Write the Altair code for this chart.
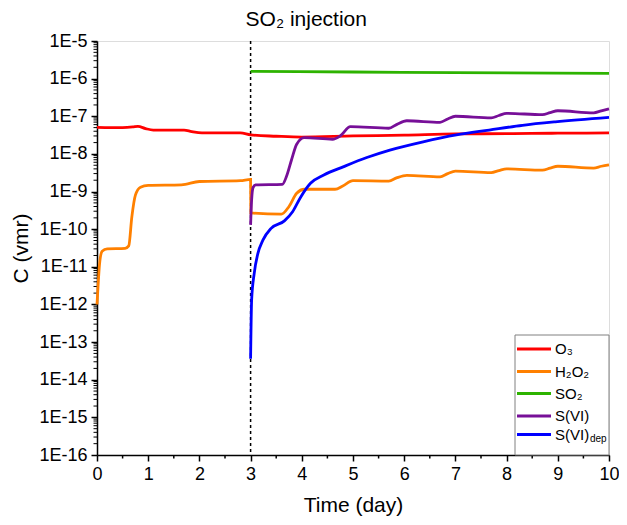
import altair as alt
import pandas as pd

FONT = "Liberation Sans"

# ---------------- data ----------------
series_names = ["O3", "H2O2", "SO2", "S(VI)", "S(VI)dep"]
series_colors = ["#ff0000", "#ff8000", "#2db300", "#770f98", "#0000ff"]

o3_t = [0, 0.5, 0.7, 0.8, 0.95, 1.1, 1.7, 1.85, 2.05, 2.8, 3.0, 3.5, 4.0, 5.0, 6.0, 7.0, 8.0, 9.0, 10]
o3_c = [5.1e-8, 5.0e-8, 5.2e-8, 5.4e-8, 4.7e-8, 4.3e-8, 4.3e-8, 3.9e-8, 3.6e-8, 3.6e-8,
        3.2e-8, 2.95e-8, 2.8e-8, 3.0e-8, 3.15e-8, 3.4e-8, 3.45e-8, 3.55e-8, 3.6e-8]

h2o2_t = [0, 0.02, 0.05, 0.1, 0.2, 0.55, 0.62, 0.68, 0.75, 0.85, 1.0, 1.65, 2.0, 2.8, 3.0, 3.005,
          3.6, 3.75, 3.9, 4.05, 4.65, 4.8, 5.0, 5.7, 5.85, 6.05, 6.7, 6.85, 7.0, 7.7, 7.85, 8.0,
          8.7, 8.85, 9.0, 9.7, 9.85, 10]
h2o2_c = [1.0e-12, 3.0e-12, 1.2e-11, 2.6e-11, 3.0e-11, 3.1e-11, 3.6e-11, 2.1e-10, 8.0e-10, 1.3e-9,
          1.45e-9, 1.5e-9, 1.85e-9, 1.95e-9, 2.1e-9, 2.7e-10,
          2.5e-10, 4.0e-10, 9.0e-10, 1.15e-9, 1.15e-9, 1.4e-9, 1.95e-9, 1.9e-9, 2.3e-9, 2.7e-9,
          2.45e-9, 3.0e-9, 3.5e-9, 3.2e-9, 3.6e-9, 4.0e-9, 3.7e-9, 4.2e-9, 4.7e-9, 4.2e-9,
          4.7e-9, 5.1e-9]

so2_t = [3.0, 5.0, 7.0, 10]
so2_c = [1.56e-6, 1.5e-6, 1.45e-6, 1.38e-6]

svi_t = [3.0, 3.02, 3.05, 3.1, 3.62, 3.7, 3.8, 3.9, 4.05, 4.6, 4.75, 4.95, 5.7, 5.85, 6.05, 6.7,
         6.85, 7.0, 7.7, 7.85, 8.0, 8.7, 8.85, 9.0, 9.7, 9.85, 10]
svi_c = [1.3e-10, 6.0e-10, 1.3e-9, 1.5e-9, 1.55e-9, 2.5e-9, 7.0e-9, 1.8e-8, 2.7e-8, 2.45e-8,
         3.0e-8, 5.3e-8, 4.8e-8, 6.0e-8, 7.6e-8, 6.9e-8, 8.5e-8, 1.0e-7, 9.1e-8, 1.05e-7,
         1.2e-7, 1.1e-7, 1.25e-7, 1.4e-7, 1.23e-7, 1.4e-7, 1.58e-7]

dep_t = [3.0, 3.02, 3.07, 3.14, 3.24, 3.40, 3.66, 3.82, 3.98, 4.17, 4.43, 4.82, 5.27, 5.72,
         6.37, 7.02, 7.66, 8.31, 8.95, 10]
dep_c = [3.6e-14, 1.3e-12, 6.6e-12, 2.2e-11, 5.1e-11, 1.05e-10, 1.66e-10, 2.9e-10, 7.2e-10,
         1.66e-9, 2.75e-9, 4.6e-9, 8.0e-9, 1.26e-8, 2.1e-8, 3.2e-8, 4.3e-8, 5.75e-8, 7.1e-8, 9.3e-8]

injection_day = [3.0]

y_major = [1e-16, 1e-15, 1e-14, 1e-13, 1e-12, 1e-11, 1e-10, 1e-9, 1e-8, 1e-7, 1e-6, 1e-5]
x_major = [0, 1, 2, 3, 4, 5, 6, 7, 8, 9, 10]
x_minor = [0.5, 1.5, 2.5, 3.5, 4.5, 5.5, 6.5, 7.5, 8.5, 9.5]

legend_labels = ["O₃", "H₂O₂", "SO₂", "S(VI)", "S(VI)"]

# ---------------- scales / axes ----------------
W, H = 512, 414
yscale = alt.Scale(type="log", domain=[1e-16, 1e-5], nice=False)
xscale = alt.Scale(domain=[0, 10], nice=False, zero=False)

common_axis = dict(grid=False, domainColor="black", tickColor="black", labelColor="black",
                   titleColor="black", domainWidth=1.5, tickWidth=1.5, tickSize=6,
                   labelFont=FONT, titleFont=FONT, labelFontSize=18, titleFontSize=21,
                   titleFontWeight="normal", labelOverlap=False, labelFlush=False)

yaxis = alt.Axis(values=y_major, labelExpr="'1E' + round(log(datum.value)/LN10)",
                 title="C (vmr)", labelPadding=4, titlePadding=7, **common_axis)
xaxis = alt.Axis(values=x_major, format="d", title="Time (day)", labelPadding=4,
                 titlePadding=11, **common_axis)


def X(field):
    return alt.X(field, scale=xscale, axis=xaxis)


def Y(field):
    return alt.Y(field, scale=yscale, axis=yaxis)


layers = []

# minor ticks (log y)
y_minor = [k * 10.0 ** d for d in range(-16, -5) for k in range(2, 10)]
layers.append(
    alt.Chart(pd.DataFrame({"v": y_minor})).mark_rule(color="black", strokeWidth=1)
    .encode(y=Y("v:Q"), x=alt.value(-3.5), x2=alt.value(0))
)
layers.append(
    alt.Chart(pd.DataFrame({"h": x_minor})).mark_rule(color="black", strokeWidth=1.5)
    .encode(x=X("h:Q"), y=alt.value(H), y2=alt.value(H + 3.5))
)

# injection line
layers.append(
    alt.Chart(pd.DataFrame({"d": injection_day})).mark_rule(
        color="black", strokeDash=[3, 3], strokeWidth=1.5)
    .encode(x=X("d:Q"))
)

# series
all_series = [(o3_t, o3_c), (h2o2_t, h2o2_c), (so2_t, so2_c), (svi_t, svi_c), (dep_t, dep_c)]
for name, col, (ts, cs) in zip(series_names, series_colors, all_series):
    d = pd.DataFrame({"t": ts, "c": cs, "i": list(range(len(ts)))})
    layers.append(
        alt.Chart(d).mark_line(color=col, strokeWidth=2.8, interpolate="monotone")
        .encode(x=X("t:Q"), y=Y("c:Q"), order="i:Q")
    )

# annotation
layers.append(
    alt.Chart(pd.DataFrame({"d": injection_day, "txt": ["SO₂ injection"]}))
    .mark_text(align="left", baseline="middle", dx=-5, font=FONT, fontSize=21, color="black")
    .encode(x=X("d:Q"), y=alt.value(-21), text="txt:N")
)

# custom legend
LX = W - 94
layers.append(
    alt.Chart(alt.Data(values=[{}])).mark_rect(fill="white", stroke="#808080", strokeWidth=1)
    .encode(x=alt.value(LX), x2=alt.value(W), y=alt.value(294), y2=alt.value(H))
)
leg = pd.DataFrame({"label": legend_labels, "col": series_colors,
                    "ly": [308, 330.5, 352.5, 375, 393.5]})
layers.append(
    alt.Chart(leg).mark_rule(strokeWidth=2.8)
    .encode(x=alt.value(LX + 2), x2=alt.value(LX + 36),
            y=alt.Y("ly:Q", scale=None, axis=None),
            color=alt.Color("col:N", scale=None, legend=None))
)
layers.append(
    alt.Chart(leg).mark_text(align="left", baseline="middle", font=FONT, fontSize=15, color="black")
    .encode(x=alt.value(LX + 40), y=alt.Y("ly:Q", scale=None, axis=None), text="label:N")
)
layers.append(
    alt.Chart(pd.DataFrame({"s": ["dep"]}))
    .mark_text(align="left", baseline="middle", font=FONT, fontSize=10, color="black")
    .encode(x=alt.value(LX + 75), y=alt.value(398), text="s:N")
)

chart = (
    alt.layer(*layers)
    .properties(width=W, height=H, padding={"left": 89, "top": 33, "right": 10, "bottom": 62},
                autosize=alt.AutoSizeParams(type="none"))
    .configure_view(stroke=None)
    .configure(background="white")
)

chart.save("out.html", embed_options={"renderer": "svg", "actions": False})
